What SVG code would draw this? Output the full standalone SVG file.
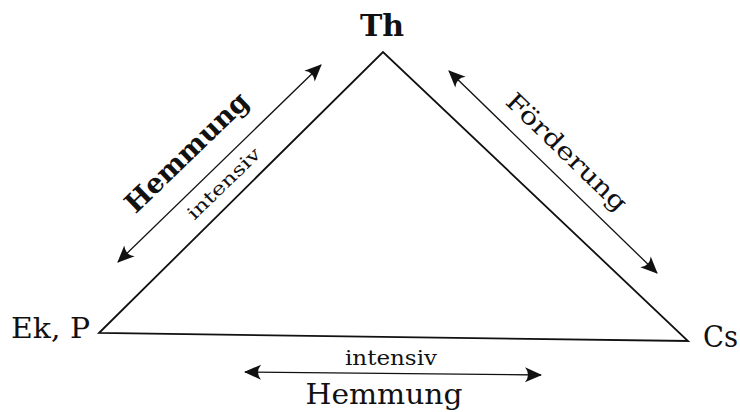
<svg xmlns="http://www.w3.org/2000/svg" width="740" height="412" viewBox="0 0 740 412">
<style>
.lbl{font-family:"DejaVu Serif","Liberation Serif",serif;fill:#111}
.tri{fill:none;stroke:#111;stroke-width:1.8;stroke-linejoin:miter}
.arr{fill:none;stroke:#111;stroke-width:1.3}
</style>
<defs>
<marker id="ah" viewBox="-18 -9 20 18" refX="0" refY="0" markerWidth="20" markerHeight="18" markerUnits="userSpaceOnUse" orient="auto-start-reverse">
<path d="M1,0 L-16,-7.5 Q-10,0 -16,7.5 Z" fill="#111"/>
</marker>
</defs>
<rect width="740" height="412" fill="#fff"/>
<g id="triangle">
<path class="tri" d="M99,333 L383,52 L688,341 Z"/>
</g>
<g id="node-th"><text class="lbl" x="382" y="36" font-size="30" font-weight="bold" text-anchor="middle">Th</text></g>
<g id="node-ekp"><text class="lbl" x="11" y="338" font-size="28" textLength="79" lengthAdjust="spacingAndGlyphs">Ek, P</text></g>
<g id="node-cs"><text class="lbl" x="703" y="347" font-size="30" textLength="35" lengthAdjust="spacingAndGlyphs">Cs</text></g>
<g id="connectors">
<line class="arr" x1="118" y1="262" x2="321" y2="65" marker-start="url(#ah)" marker-end="url(#ah)"/>
<line class="arr" x1="449" y1="71" x2="657" y2="273" marker-start="url(#ah)" marker-end="url(#ah)"/>
<line class="arr" x1="245" y1="372" x2="541" y2="375" marker-start="url(#ah)" marker-end="url(#ah)"/>
</g>
<g id="labels">
<text class="lbl" font-size="27" font-weight="bold" text-anchor="middle" textLength="160" lengthAdjust="spacingAndGlyphs" transform="translate(193,159) rotate(-44)">Hemmung</text>
<text class="lbl" font-size="18" text-anchor="middle" textLength="94" lengthAdjust="spacingAndGlyphs" transform="translate(228,188) rotate(-44)">intensiv</text>
<text class="lbl" font-size="24" text-anchor="middle" textLength="158" lengthAdjust="spacingAndGlyphs" transform="translate(561,158) rotate(44)">Förderung</text>
<text class="lbl" x="391" y="365" font-size="20" text-anchor="middle" textLength="92" lengthAdjust="spacingAndGlyphs">intensiv</text>
<text class="lbl" x="384" y="404" font-size="28" text-anchor="middle" textLength="157" lengthAdjust="spacingAndGlyphs">Hemmung</text>
</g>
</svg>
